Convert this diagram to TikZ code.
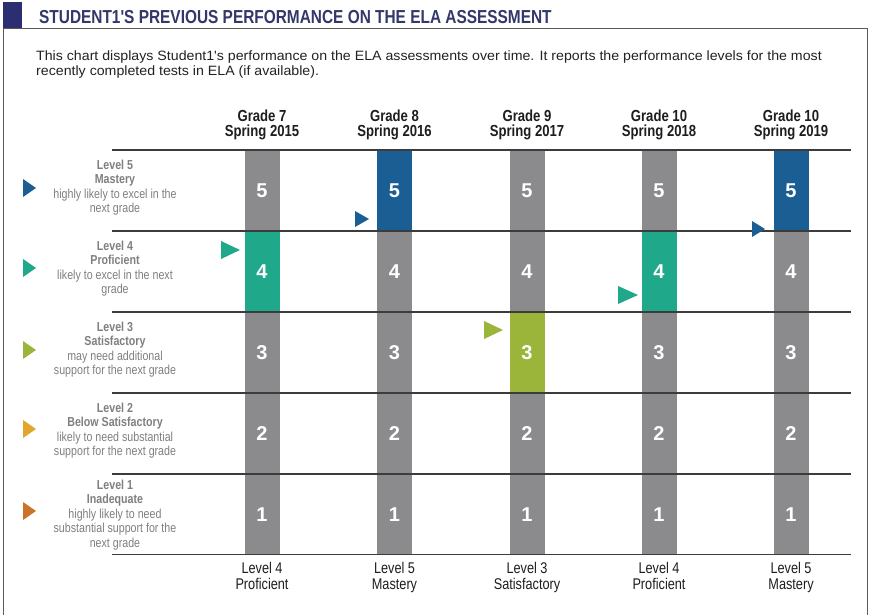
\documentclass[tikz,border=0pt]{standalone}
\usepackage{fontspec}
\setmainfont{Liberation Sans}
\newfontfamily\narrowfont[FakeStretch=0.82]{Liberation Sans}
\newfontfamily\widefont[FakeStretch=1.05]{Liberation Sans}
\definecolor{navyC}{HTML}{2B2F72}
\definecolor{titleC}{HTML}{33386A}
\definecolor{frameC}{HTML}{5A5A5A}
\definecolor{ruleC}{HTML}{3C3C3C}
\definecolor{barC}{HTML}{8B8B8D}
\definecolor{blueC}{HTML}{1B5E93}
\definecolor{tealC}{HTML}{1FA88A}
\definecolor{limeC}{HTML}{9BB53B}
\definecolor{goldC}{HTML}{E2A62C}
\definecolor{orangeC}{HTML}{C97428}
\definecolor{hdrC}{HTML}{1E1E1E}
\definecolor{legC}{HTML}{7F7F7F}
\definecolor{descC}{HTML}{222222}
\tikzset{
  seg/.style={minimum width=35pt, minimum height=81pt, inner sep=0pt, text=white,
    font=\fontsize{20}{20}\selectfont\bfseries},
  rulestyle/.style={line width=1.3pt, draw=ruleC},
  framestyle/.style={line width=1pt, draw=frameC},
  hdr/.style={align=center, inner sep=0pt, anchor=north, text=hdrC,
    font=\narrowfont\fontsize{16}{15}\selectfont\bfseries},
  foot/.style={align=center, inner sep=0pt, anchor=north, text=hdrC,
    font=\narrowfont\fontsize{15.5}{16.5}\selectfont},
  legtxt/.style={align=center, inner sep=0pt, anchor=north, text=legC,
    font=\narrowfont\fontsize{13}{14.5}\selectfont},
}
\begin{document}
\begin{tikzpicture}[x={(1pt,0pt)}, y={(0pt,-1pt)}]
\useasboundingbox (0,0) rectangle (874,615);
\fill[white] (0,0) rectangle (874,615);
% header
\fill[navyC] (3,2) rectangle (22,28);
\node[anchor=base west, inner sep=0pt, text=titleC,
  font=\narrowfont\fontsize{18.8}{20}\selectfont\bfseries] (title) at (39,24)
  {STUDENT1'S PREVIOUS PERFORMANCE ON THE ELA ASSESSMENT};
% frame
\draw[framestyle] (3.5,615) -- (3.5,28.5) -- (867,28.5) -- (867,615);
% description
\node[anchor=north west, inner sep=0pt, align=left, text=descC,
  font=\widefont\fontsize{13.5}{15.5}\selectfont] (desc) at (36,50.5)
  {This chart displays Student1's performance on the ELA assessments over time. It reports the performance levels for the most\\
   recently completed tests in ELA (if available).};
% bars
\foreach \c/\x/\hl/\hc in {1/262/4/tealC, 2/394.5/5/blueC, 3/527/3/limeC, 4/659/4/tealC, 5/791/5/blueC}{
  \foreach \L in {1,...,5}{
    \pgfmathsetmacro\yy{190.5+81*(5-\L)}
    \ifnum\L=\hl\relax\def\fc{\hc}\else\def\fc{barC}\fi
    \node[seg, fill=\fc] (b\c-\L) at (\x,\yy) {\L};
  }
}
% rules
\foreach \i/\y in {0/150, 1/231, 2/312, 3/393, 4/474, 5/554.5}{
  \coordinate (rl\i) at (112,\y);
  \coordinate (rr\i) at (851,\y);
  \draw[rulestyle] (rl\i) -- (rr\i);
}
% column headers
\node[hdr] (h1) at (262,109.3) {Grade 7\\Spring 2015};
\node[hdr] (h2) at (394.5,109.3) {Grade 8\\Spring 2016};
\node[hdr] (h3) at (527,109.3) {Grade 9\\Spring 2017};
\node[hdr] (h4) at (659,109.3) {Grade 10\\Spring 2018};
\node[hdr] (h5) at (791,109.3) {Grade 10\\Spring 2019};
% footer labels
\node[foot] (f1) at (262,562) {Level 4\\Proficient};
\node[foot] (f2) at (394.5,562) {Level 5\\Mastery};
\node[foot] (f3) at (527,562) {Level 3\\Satisfactory};
\node[foot] (f4) at (659,562) {Level 4\\Proficient};
\node[foot] (f5) at (791,562) {Level 5\\Mastery};
% legend
\node[legtxt] (l5) at (115,159.5) {\bfseries Level 5\\\bfseries Mastery\\highly likely to excel in the\\next grade};
\node[legtxt] (l4) at (115,240.5) {\bfseries Level 4\\\bfseries Proficient\\likely to excel in the next\\grade};
\node[legtxt] (l3) at (115,321.5) {\bfseries Level 3\\\bfseries Satisfactory\\may need additional\\support for the next grade};
\node[legtxt] (l2) at (115,402.5) {\bfseries Level 2\\\bfseries Below Satisfactory\\likely to need substantial\\support for the next grade};
\node[legtxt] (l1) at (115,479.5) {\bfseries Level 1\\\bfseries Inadequate\\highly likely to need\\substantial support for the\\next grade};
% legend triangles
\fill[blueC]   (23,179) -- (36,188) -- (23,197) -- cycle;
\fill[tealC]   (23,259) -- (36,268) -- (23,277) -- cycle;
\fill[limeC]   (23,341) -- (36,350) -- (23,359) -- cycle;
\fill[goldC]   (23,420) -- (36,429) -- (23,438) -- cycle;
\fill[orangeC] (23,502) -- (36,511) -- (23,520) -- cycle;
% score markers
\fill[tealC] (221,241) -- (240,250) -- (221,259) -- cycle;
\fill[blueC] (355,211) -- (369,219) -- (355,227) -- cycle;
\fill[limeC] (484,321) -- (503,330) -- (484,339) -- cycle;
\fill[tealC] (618,286) -- (638,295) -- (618,304) -- cycle;
\fill[blueC] (752,221) -- (765,229) -- (752,237) -- cycle;
\end{tikzpicture}
\end{document}
